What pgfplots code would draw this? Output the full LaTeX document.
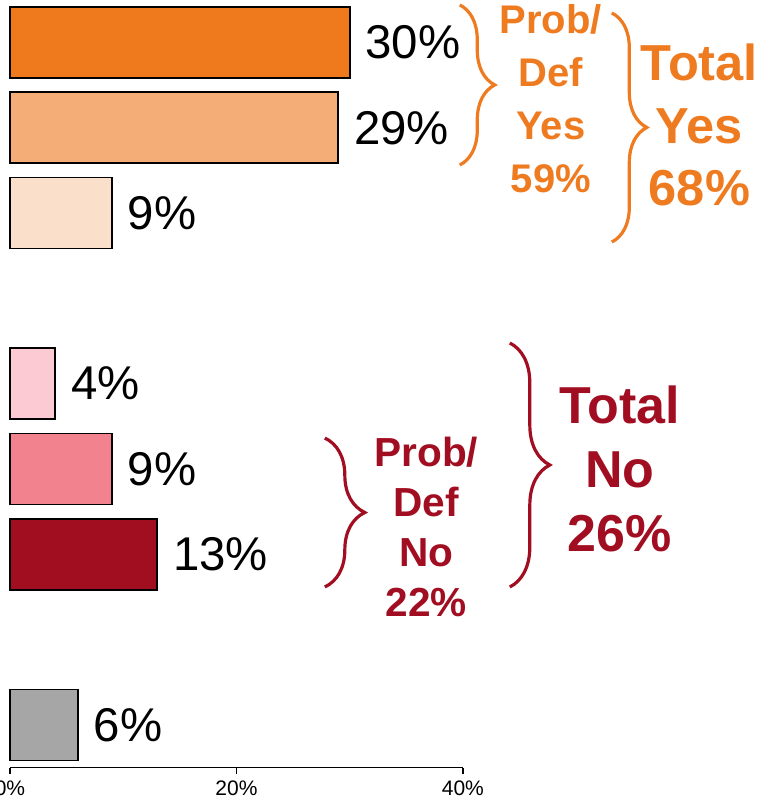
\documentclass[border=0pt]{standalone}
\usepackage{pgfplots}
\pgfplotsset{compat=1.18}
\usepackage{fontspec}
\setmainfont{Liberation Sans}
\usetikzlibrary{decorations.pathreplacing}
\definecolor{cA}{HTML}{EF7A1E}
\definecolor{cB}{HTML}{F4AD77}
\definecolor{cC}{HTML}{FADFCA}
\definecolor{cD}{HTML}{FCCAD2}
\definecolor{cE}{HTML}{F2838E}
\definecolor{cF}{HTML}{A00E1F}
\definecolor{cG}{HTML}{A6A6A6}
\definecolor{orT}{HTML}{EF7B21}
\definecolor{rdT}{HTML}{A10E22}
\begin{document}
\begin{tikzpicture}
\begin{axis}[
  xbar, bar shift=0pt, bar width=35.5pt,
  width=226.5pt, height=384pt, scale only axis,
  xmin=0, xmax=40, ymin=-0.5, ymax=8.5,
  axis x line*=bottom, axis y line=none,
  axis line style={black, line width=0.75pt},
  xtick={0,20,40}, tick align=outside, major tick length=3pt,
  tick style={black, line width=0.75pt},
  xticklabel={\pgfmathprintnumber{\tick}\%},
  /pgf/number format/assume math mode=true,
  tick label style={font=\fontsize{10.5}{12}\selectfont},
  ytick=\empty,
  clip=false,
  nodes near coords={\pgfmathprintnumber{\pgfplotspointmeta}\%},
  nodes near coords align=horizontal,
  every node near coord/.append style={font=\fontsize{23.7}{28}\selectfont, black, anchor=west, inner sep=0pt, xshift=7.5pt},
  every axis plot/.append style={draw=black, line width=0.9pt},
]
\addplot[fill=cA] coordinates {(30,8)};
\addplot[fill=cB] coordinates {(29,7)};
\addplot[fill=cC] coordinates {(9,6)};
\addplot[fill=cD] coordinates {(4,4)};
\addplot[fill=cE] coordinates {(9,3)};
\addplot[fill=cF] coordinates {(13,2)};
\addplot[fill=cG] coordinates {(6,0)};

% braces
\draw[orT, line width=1.6pt, decorate, decoration={brace, amplitude=17.5pt}] (axis cs:39.73,8.44) -- (axis cs:39.73,6.564);
\draw[orT, line width=1.6pt, decorate, decoration={brace, amplitude=17.5pt}] (axis cs:53.16,8.346) -- (axis cs:53.16,5.661);
\draw[rdT, line width=1.6pt, decorate, decoration={brace, amplitude=20pt}] (axis cs:27.81,3.363) -- (axis cs:27.81,1.617);
\draw[rdT, line width=1.6pt, decorate, decoration={brace, amplitude=20pt}] (axis cs:44.15,4.477) -- (axis cs:44.15,1.617);

% texts
\node[orT, anchor=north, inner sep=0pt, align=center, font=\bfseries\fontsize{20}{26.5}\selectfont] at (axis cs:47.77,8.451) {Prob/\\Def\\Yes\\59\%};
\node[orT, anchor=north, inner sep=0pt, align=center, font=\bfseries\fontsize{25.3}{31.5}\selectfont] at (axis cs:60.9,7.994) {Total\\Yes\\68\%};
\node[rdT, anchor=north, inner sep=0pt, align=center, font=\bfseries\fontsize{20.3}{25}\selectfont] at (axis cs:36.78,3.375) {Prob/\\Def\\No\\22\%};
\node[rdT, anchor=north, inner sep=0pt, align=center, font=\bfseries\fontsize{26}{32}\selectfont] at (axis cs:53.86,3.985) {Total\\No\\26\%};

\coordinate (bl) at (axis cs:-0.883,-0.927);
\coordinate (tr) at (axis cs:65.96,8.498);
\end{axis}
\pgfresetboundingbox
\useasboundingbox (bl) rectangle (tr);
\end{tikzpicture}
\end{document}
